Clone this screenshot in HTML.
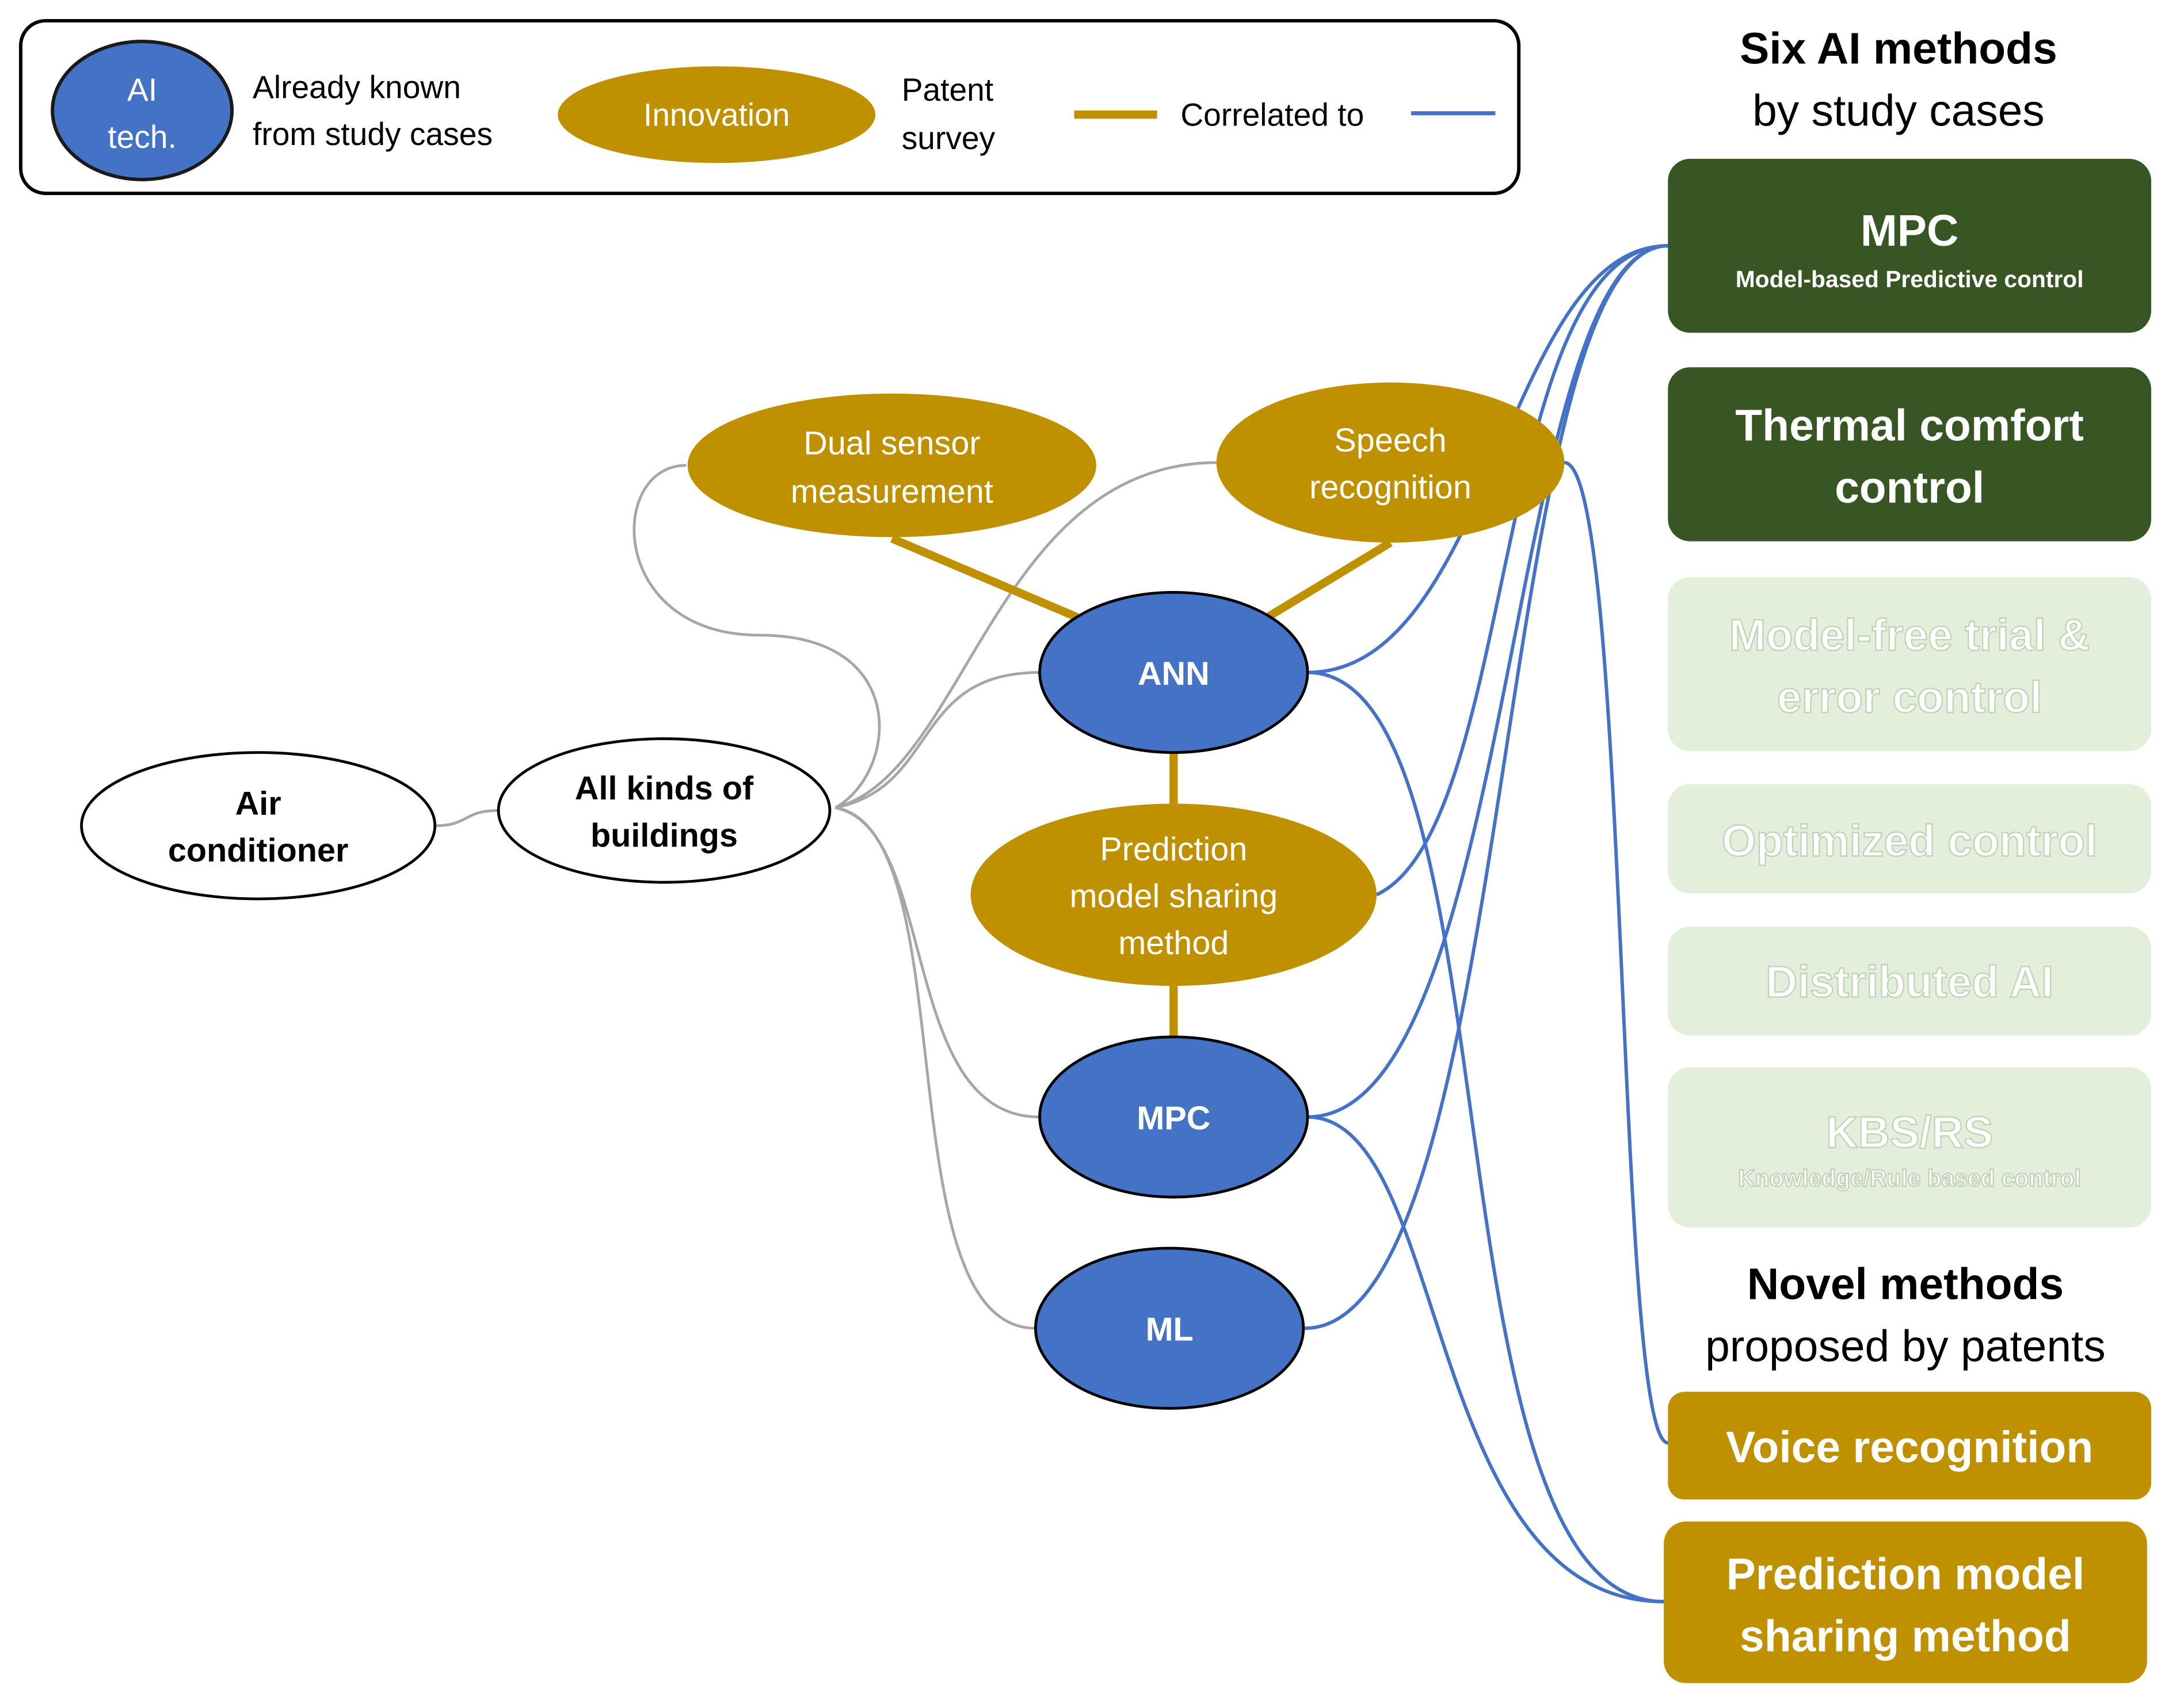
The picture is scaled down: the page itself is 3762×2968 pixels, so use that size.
<!DOCTYPE html>
<html><head><meta charset="utf-8"><style>
html,body{margin:0;padding:0;background:#fff;}
svg{display:block;}
text{font-family:"Liberation Sans",sans-serif;}
</style></head><body>
<svg width="3762" height="2968" viewBox="0 0 1568 1237" xmlns="http://www.w3.org/2000/svg">
<rect x="0" y="0" width="1568" height="1237" fill="#fff"/>
<!-- legend -->
<rect x="15" y="15" width="1085" height="125" rx="18" fill="#fff" stroke="#000" stroke-width="2.5"/>
<ellipse cx="103" cy="80" rx="65" ry="50" fill="#4472C4" stroke="#1a1a1a" stroke-width="2.5"/>
<text x="103" y="73" font-size="23" fill="#fff" text-anchor="middle">AI</text>
<text x="103" y="107" font-size="23" fill="#fff" text-anchor="middle">tech.</text>
<text x="183" y="71" font-size="23">Already known</text>
<text x="183" y="105" font-size="23">from study cases</text>
<ellipse cx="519" cy="83" rx="115" ry="35" fill="#BF9000"/>
<text x="519" y="91" font-size="23" fill="#fff" text-anchor="middle">Innovation</text>
<text x="653" y="73" font-size="23">Patent</text>
<text x="653" y="108" font-size="23">survey</text>
<line x1="778" y1="83" x2="838" y2="83" stroke="#BF9000" stroke-width="6"/>
<text x="855" y="91" font-size="23">Correlated to</text>
<line x1="1022" y1="82" x2="1083" y2="82" stroke="#4472C4" stroke-width="3"/>
<!-- right titles -->
<text x="1375" y="46" font-size="32" font-weight="bold" text-anchor="middle">Six AI methods</text>
<text x="1375" y="91" font-size="32" text-anchor="middle">by study cases</text>
<rect x="1208" y="115" width="350" height="126" rx="16" fill="#375623"/>
<text x="1383" y="178" font-size="32" font-weight="bold" fill="#fff" text-anchor="middle">MPC</text>
<text x="1383" y="208" font-size="17" font-weight="bold" fill="#fff" text-anchor="middle">Model-based Predictive control</text>
<rect x="1208" y="266" width="350" height="126" rx="16" fill="#375623"/>
<text x="1383" y="319" font-size="32" font-weight="bold" fill="#fff" text-anchor="middle">Thermal comfort</text>
<text x="1383" y="364" font-size="32" font-weight="bold" fill="#fff" text-anchor="middle">control</text>
<g fill="#fff" stroke="#c5d2bb" stroke-width="1" font-weight="bold" text-anchor="middle">
<rect x="1208" y="418" width="350" height="126" rx="16" fill="#E2EFDA" stroke="none"/>
<text x="1383" y="471" font-size="32">Model-free trial &amp;</text>
<text x="1383" y="516" font-size="32">error control</text>
<rect x="1208" y="568" width="350" height="79" rx="16" fill="#E2EFDA" stroke="none"/>
<text x="1383" y="620" font-size="32">Optimized control</text>
<rect x="1208" y="671" width="350" height="79" rx="16" fill="#E2EFDA" stroke="none"/>
<text x="1383" y="722" font-size="32">Distributed AI</text>
<rect x="1208" y="773" width="350" height="116" rx="16" fill="#E2EFDA" stroke="none"/>
<text x="1383" y="831" font-size="32">KBS/RS</text>
<text x="1383" y="859" font-size="17">Knowledge/Rule based control</text>
</g>
<text x="1380" y="941" font-size="32" font-weight="bold" text-anchor="middle">Novel methods</text>
<text x="1380" y="986" font-size="32" text-anchor="middle">proposed by patents</text>
<rect x="1208" y="1008" width="350" height="78" rx="12" fill="#BF9000"/>
<text x="1383" y="1059" font-size="32" font-weight="bold" fill="#fff" text-anchor="middle">Voice recognition</text>
<rect x="1205" y="1102" width="350" height="117" rx="16" fill="#BF9000"/>
<text x="1380" y="1151" font-size="32" font-weight="bold" fill="#fff" text-anchor="middle">Prediction model</text>
<text x="1380" y="1196" font-size="32" font-weight="bold" fill="#fff" text-anchor="middle">sharing method</text>
<!-- gray curves -->
<g fill="none" stroke="#a6a6a6" stroke-width="2">
<path d="M315,598 C340,598 335,587 361,587"/>
<path d="M605,585 C650,560 660,460 550,460 C440,460 440,337 497,337"/>
<path d="M605,585 C700,560 720,335 882,335"/>
<path d="M605,585 C680,570 660,487 753,487"/>
<path d="M605,585 C680,600 650,809 753,809"/>
<path d="M605,585 C700,600 640,962 750,962"/>
</g>
<!-- blue curves -->
<g fill="none" stroke="#4472C4" stroke-width="2.5">
<path d="M947,487 C1080,487 1090,178 1208,178"/>
<path d="M997,648 C1100,600 1080,178 1208,178"/>
<path d="M947,809 C1100,809 1090,178 1208,178"/>
<path d="M945,962 C1100,962 1080,178 1208,178"/>
<path d="M1133,335 C1180,335 1170,1045 1208,1045"/>
<path d="M947,487 C1100,487 1030,1160 1205,1160"/>
<path d="M947,809 C1050,809 1030,1160 1205,1160"/>
</g>
<!-- gold connectors -->
<g stroke="#BF9000" stroke-width="6">
<line x1="646" y1="390" x2="780" y2="447"/>
<line x1="1007" y1="393" x2="918" y2="447"/>
<line x1="850" y1="545" x2="850" y2="582"/>
<line x1="850" y1="714" x2="850" y2="751"/>
</g>
<!-- nodes -->
<ellipse cx="187" cy="598" rx="128" ry="53" fill="#fff" stroke="#000" stroke-width="2"/>
<text x="187" y="590" font-size="24" font-weight="bold" text-anchor="middle">Air</text>
<text x="187" y="624" font-size="24" font-weight="bold" text-anchor="middle">conditioner</text>
<ellipse cx="481" cy="587" rx="120" ry="52" fill="#fff" stroke="#000" stroke-width="2"/>
<text x="481" y="579" font-size="24" font-weight="bold" text-anchor="middle">All kinds of</text>
<text x="481" y="613" font-size="24" font-weight="bold" text-anchor="middle">buildings</text>
<ellipse cx="646" cy="337" rx="148" ry="52" fill="#BF9000"/>
<text x="646" y="329" font-size="24" fill="#fff" text-anchor="middle">Dual sensor</text>
<text x="646" y="364" font-size="24" fill="#fff" text-anchor="middle">measurement</text>
<ellipse cx="1007" cy="335" rx="126" ry="58" fill="#BF9000"/>
<text x="1007" y="327" font-size="24" fill="#fff" text-anchor="middle">Speech</text>
<text x="1007" y="361" font-size="24" fill="#fff" text-anchor="middle">recognition</text>
<ellipse cx="850" cy="487" rx="97" ry="58" fill="#4472C4" stroke="#000" stroke-width="2"/>
<text x="850" y="496" font-size="24" font-weight="bold" fill="#fff" text-anchor="middle">ANN</text>
<ellipse cx="850" cy="648" rx="147" ry="66" fill="#BF9000"/>
<text x="850" y="623" font-size="24" fill="#fff" text-anchor="middle">Prediction</text>
<text x="850" y="657" font-size="24" fill="#fff" text-anchor="middle">model sharing</text>
<text x="850" y="691" font-size="24" fill="#fff" text-anchor="middle">method</text>
<ellipse cx="850" cy="809" rx="97" ry="58" fill="#4472C4" stroke="#000" stroke-width="2"/>
<text x="850" y="818" font-size="24" font-weight="bold" fill="#fff" text-anchor="middle">MPC</text>
<ellipse cx="847" cy="962" rx="97" ry="58" fill="#4472C4" stroke="#000" stroke-width="2"/>
<text x="847" y="971" font-size="24" font-weight="bold" fill="#fff" text-anchor="middle">ML</text>
</svg>
</body></html>
